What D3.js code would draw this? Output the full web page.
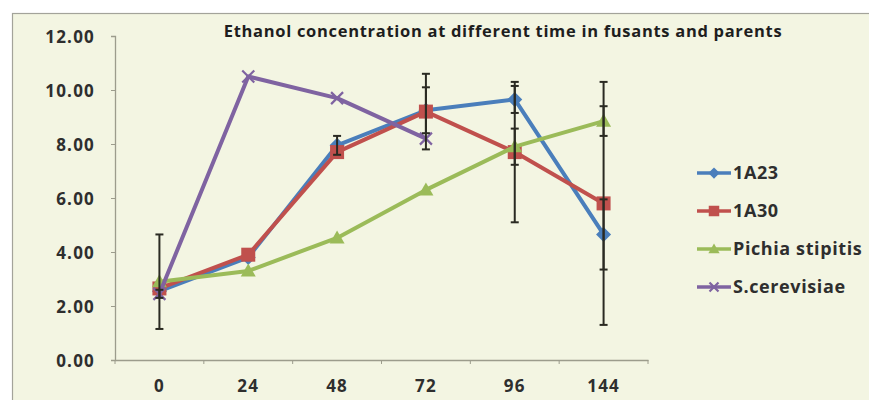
<!DOCTYPE html>
<html>
<head>
<meta charset="utf-8">
<script src="https://cdn.jsdelivr.net/npm/d3@7"></script>
<style>
  html, body { margin: 0; padding: 0; background: #ffffff; }
  svg { display: block; }
  text { font-family: "Open Sans", Lato, sans-serif; font-weight: 700; fill: #2e2e2e; }
</style>
</head>
<body>
<svg id="chart" width="869" height="400"></svg>
<script>
// Sampling times (h) shown on the category axis
const hours = ["0", "24", "48", "72", "96", "144"];

// Ethanol concentration per strain (null = not measured)
const a23    = [2.55, 3.80, 7.95, 9.25, 9.65, 4.65];
const a30    = [2.65, 3.90, 7.70, 9.20, 7.70, 5.80];
const pichia = [2.90, 3.30, 4.52, 6.30, 7.90, 8.85];
const scer   = [2.45, 10.50, 9.70, 8.20, null, null];

// Symmetric error amounts per strain (0 = no bar drawn)
const a23Err    = [0, 0, 0.35, 0.85, 0.50, 1.30];
const a30Err    = [0, 0, 0, 1.40, 2.60, 4.50];
const pichiaErr = [1.75, 0, 0, 0, 0.67, 0.55];
const scerErr   = [0.15, 0, 0, 0, 0, 0];

const seriesNames = ["1A23", "1A30", "Pichia stipitis", "S.cerevisiae"];
const yTicks = [0, 2, 4, 6, 8, 10, 12];
const titleText = "Ethanol concentration at different time in fusants and parents";

const series = [
  { name: seriesNames[0], values: a23,    err: a23Err,    color: "#4a7ebb", marker: "diamond" },
  { name: seriesNames[1], values: a30,    err: a30Err,    color: "#c0504d", marker: "square" },
  { name: seriesNames[2], values: pichia, err: pichiaErr, color: "#9bbb59", marker: "triangle" },
  { name: seriesNames[3], values: scer,   err: scerErr,   color: "#7f63a1", marker: "cross" }
];

const svg = d3.select("#chart");

// chart area panel
svg.append("rect")
  .attr("x", 12.5).attr("y", 13.5)
  .attr("width", 900).attr("height", 420)
  .attr("fill", "#f3f5e2")
  .attr("stroke", "#a3a39a").attr("stroke-width", 1.2);

const plot = { left: 115, right: 648, top: 36, bottom: 360 };

const x = d3.scaleBand().domain(hours).range([plot.left, plot.right]).padding(0);
const y = d3.scaleLinear().domain([0, 12]).range([plot.bottom, plot.top]);
const cx = h => x(h) + x.bandwidth() / 2;

// title
svg.append("text")
  .attr("x", 503).attr("y", 37)
  .attr("text-anchor", "middle")
  .style("font-size", "16.5px")
  .style("letter-spacing", "0.7px")
  .style("fill", "#1e1e1e")
  .text(titleText);

// y axis
const yAxis = svg.append("g")
  .attr("transform", `translate(${plot.left},0)`)
  .call(d3.axisLeft(y).tickValues(yTicks).tickFormat(d3.format(".2f")).tickSize(4).tickPadding(16));
yAxis.select(".domain").attr("stroke", "#9c9c8c").attr("stroke-width", 1.3);
yAxis.selectAll(".tick line").attr("stroke", "#9c9c8c");
yAxis.selectAll("text").style("font-size", "17px").style("letter-spacing", "1.2px").attr("dy", "0.36em");

// x axis with ticks on category boundaries
const xAxis = svg.append("g")
  .attr("transform", `translate(0,${plot.bottom})`)
  .call(d3.axisBottom(x).tickSize(0).tickPadding(20));
xAxis.select(".domain").attr("stroke", "#9c9c8c").attr("stroke-width", 1.3);
xAxis.selectAll("text").style("font-size", "17px").style("letter-spacing", "1.2px");
const bounds = hours.map(h => x(h)).concat([plot.right]);
xAxis.selectAll("line.bound")
  .data(bounds)
  .join("line")
  .attr("class", "bound")
  .attr("x1", d => d).attr("x2", d => d)
  .attr("y1", 0).attr("y2", 4)
  .attr("stroke", "#9c9c8c");

// markers
function drawMarker(g, type, color, px, py, scale) {
  const s = scale || 1;
  if (type === "diamond") {
    const r = 7.5 * s;
    g.append("path").attr("d", `M${px},${py - r}L${px + r},${py}L${px},${py + r}L${px - r},${py}Z`).attr("fill", color);
  } else if (type === "square") {
    const r = 7 * s;
    g.append("rect").attr("x", px - r).attr("y", py - r).attr("width", 2 * r).attr("height", 2 * r).attr("fill", color);
  } else if (type === "triangle") {
    const r = 7.5 * s;
    g.append("path").attr("d", `M${px},${py - r}L${px + r},${py + r * 0.75}L${px - r},${py + r * 0.75}Z`).attr("fill", color);
  } else {
    const r = 6 * s;
    g.append("path").attr("d", `M${px - r},${py - r}L${px + r},${py + r}M${px - r},${py + r}L${px + r},${py - r}`)
      .attr("stroke", color).attr("stroke-width", 2.2).attr("fill", "none");
  }
}

const line = d3.line()
  .defined(d => d.v !== null)
  .x(d => cx(d.h))
  .y(d => y(d.v));

series.forEach(s => {
  const pts = hours.map((h, i) => ({ h, v: s.values[i] }));
  const g = svg.append("g");
  g.append("path")
    .datum(pts)
    .attr("d", line)
    .attr("fill", "none")
    .attr("stroke", s.color)
    .attr("stroke-width", 4)
    .attr("stroke-linejoin", "round");
  pts.filter(p => p.v !== null).forEach(p => drawMarker(g, s.marker, s.color, cx(p.h), y(p.v)));
});

// error bars
const errG = svg.append("g").attr("stroke", "#2a2a22").attr("stroke-width", 2);
series.forEach(s => {
  hours.forEach((h, i) => {
    const v = s.values[i], e = s.err[i];
    if (v === null || !e) return;
    const px = cx(h);
    errG.append("line").attr("x1", px).attr("x2", px).attr("y1", y(v + e)).attr("y2", y(v - e));
    [v + e, v - e].forEach(c => {
      errG.append("line").attr("x1", px - 4).attr("x2", px + 4).attr("y1", y(c)).attr("y2", y(c));
    });
  });
});

// legend
const legend = svg.append("g");
series.forEach((s, i) => {
  const ly = 173 + i * 38;
  legend.append("line")
    .attr("x1", 697).attr("x2", 731).attr("y1", ly).attr("y2", ly)
    .attr("stroke", s.color).attr("stroke-width", 3.6);
  drawMarker(legend, s.marker, s.color, 714, ly, 0.75);
  legend.append("text")
    .attr("x", 733).attr("y", ly).attr("dy", "0.36em")
    .style("font-size", "18px")
    .style("letter-spacing", "0.6px")
    .text(s.name);
});
</script>
</body>
</html>
